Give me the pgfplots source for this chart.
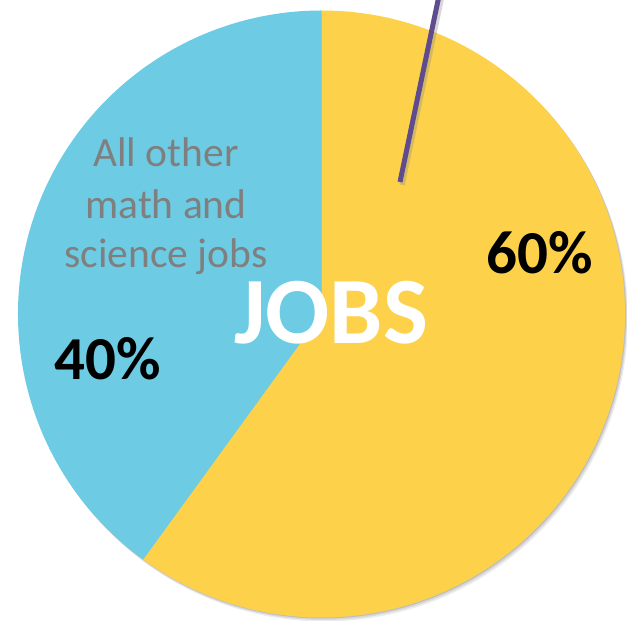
\documentclass[border=0pt]{standalone}
\usepackage{pgfplots}
\pgfplotsset{compat=1.18}
\usepackage{fontspec}
\setmainfont{Carlito}
\definecolor{pieyellow}{HTML}{FDD24A}
\definecolor{pieblue}{HTML}{6DCCE3}
\definecolor{labgray}{HTML}{7F7F7F}
\definecolor{linepurple}{HTML}{5E4C8E}
% shares (percent)
\def\shareA{60}
\def\shareB{40}
\pgfmathsetmacro{\aStart}{90}
\pgfmathsetmacro{\aEnd}{90-3.6*\shareA}
\pgfmathsetmacro{\aEndB}{\aStart-360}
\begin{document}
\begin{tikzpicture}
\begin{axis}[
  width=627pt, height=621pt, scale only axis,
  xmin=0, xmax=627, ymin=0, ymax=621,
  hide axis, clip=true,
]
% soft shadow (bottom right)
\fill[black,opacity=0.07] (axis cs:324.5,303) circle[radius=303.5pt];
\fill[black,opacity=0.09] (axis cs:323.5,304.5) circle[radius=303.5pt];
\fill[black,opacity=0.12] (axis cs:322.5,306) circle[radius=303.5pt];
% yellow wedge (60%)
\fill[pieyellow] (axis cs:321.5,307) -- ++(\aStart:303.5pt) arc[start angle=\aStart, end angle=\aEnd, radius=303.5pt] -- cycle;
% blue wedge (40%)
\fill[pieblue] (axis cs:321.5,307) -- ++(\aEnd:303.5pt) arc[start angle=\aEnd, end angle=\aEndB, radius=303.5pt] -- cycle;
% callout line
\draw[black!45,opacity=0.35,line width=5.5pt] (axis cs:402,436) -- (axis cs:442,626);
\draw[linepurple,line width=5pt] (axis cs:400,439) -- (axis cs:440,630);
% labels
\node[anchor=base,text=labgray,font=\fontsize{41.5}{50}\selectfont] at (axis cs:166,454) {All other};
\node[anchor=base,text=labgray,font=\fontsize{41.5}{50}\selectfont] at (axis cs:166,402) {math and};
\node[anchor=base,text=labgray,font=\fontsize{41.5}{50}\selectfont] at (axis cs:166,353) {science jobs};
\node[anchor=base,text=white,font=\fontsize{95}{110}\selectfont\bfseries] at (axis cs:331,277) {JOBS};
\node[anchor=base,text=black,font=\fontsize{61}{70}\selectfont\bfseries] at (axis cs:540,347) {60\%};
\node[anchor=base,text=black,font=\fontsize{61}{70}\selectfont\bfseries] at (axis cs:108,241) {40\%};
\end{axis}
\end{tikzpicture}
\end{document}
